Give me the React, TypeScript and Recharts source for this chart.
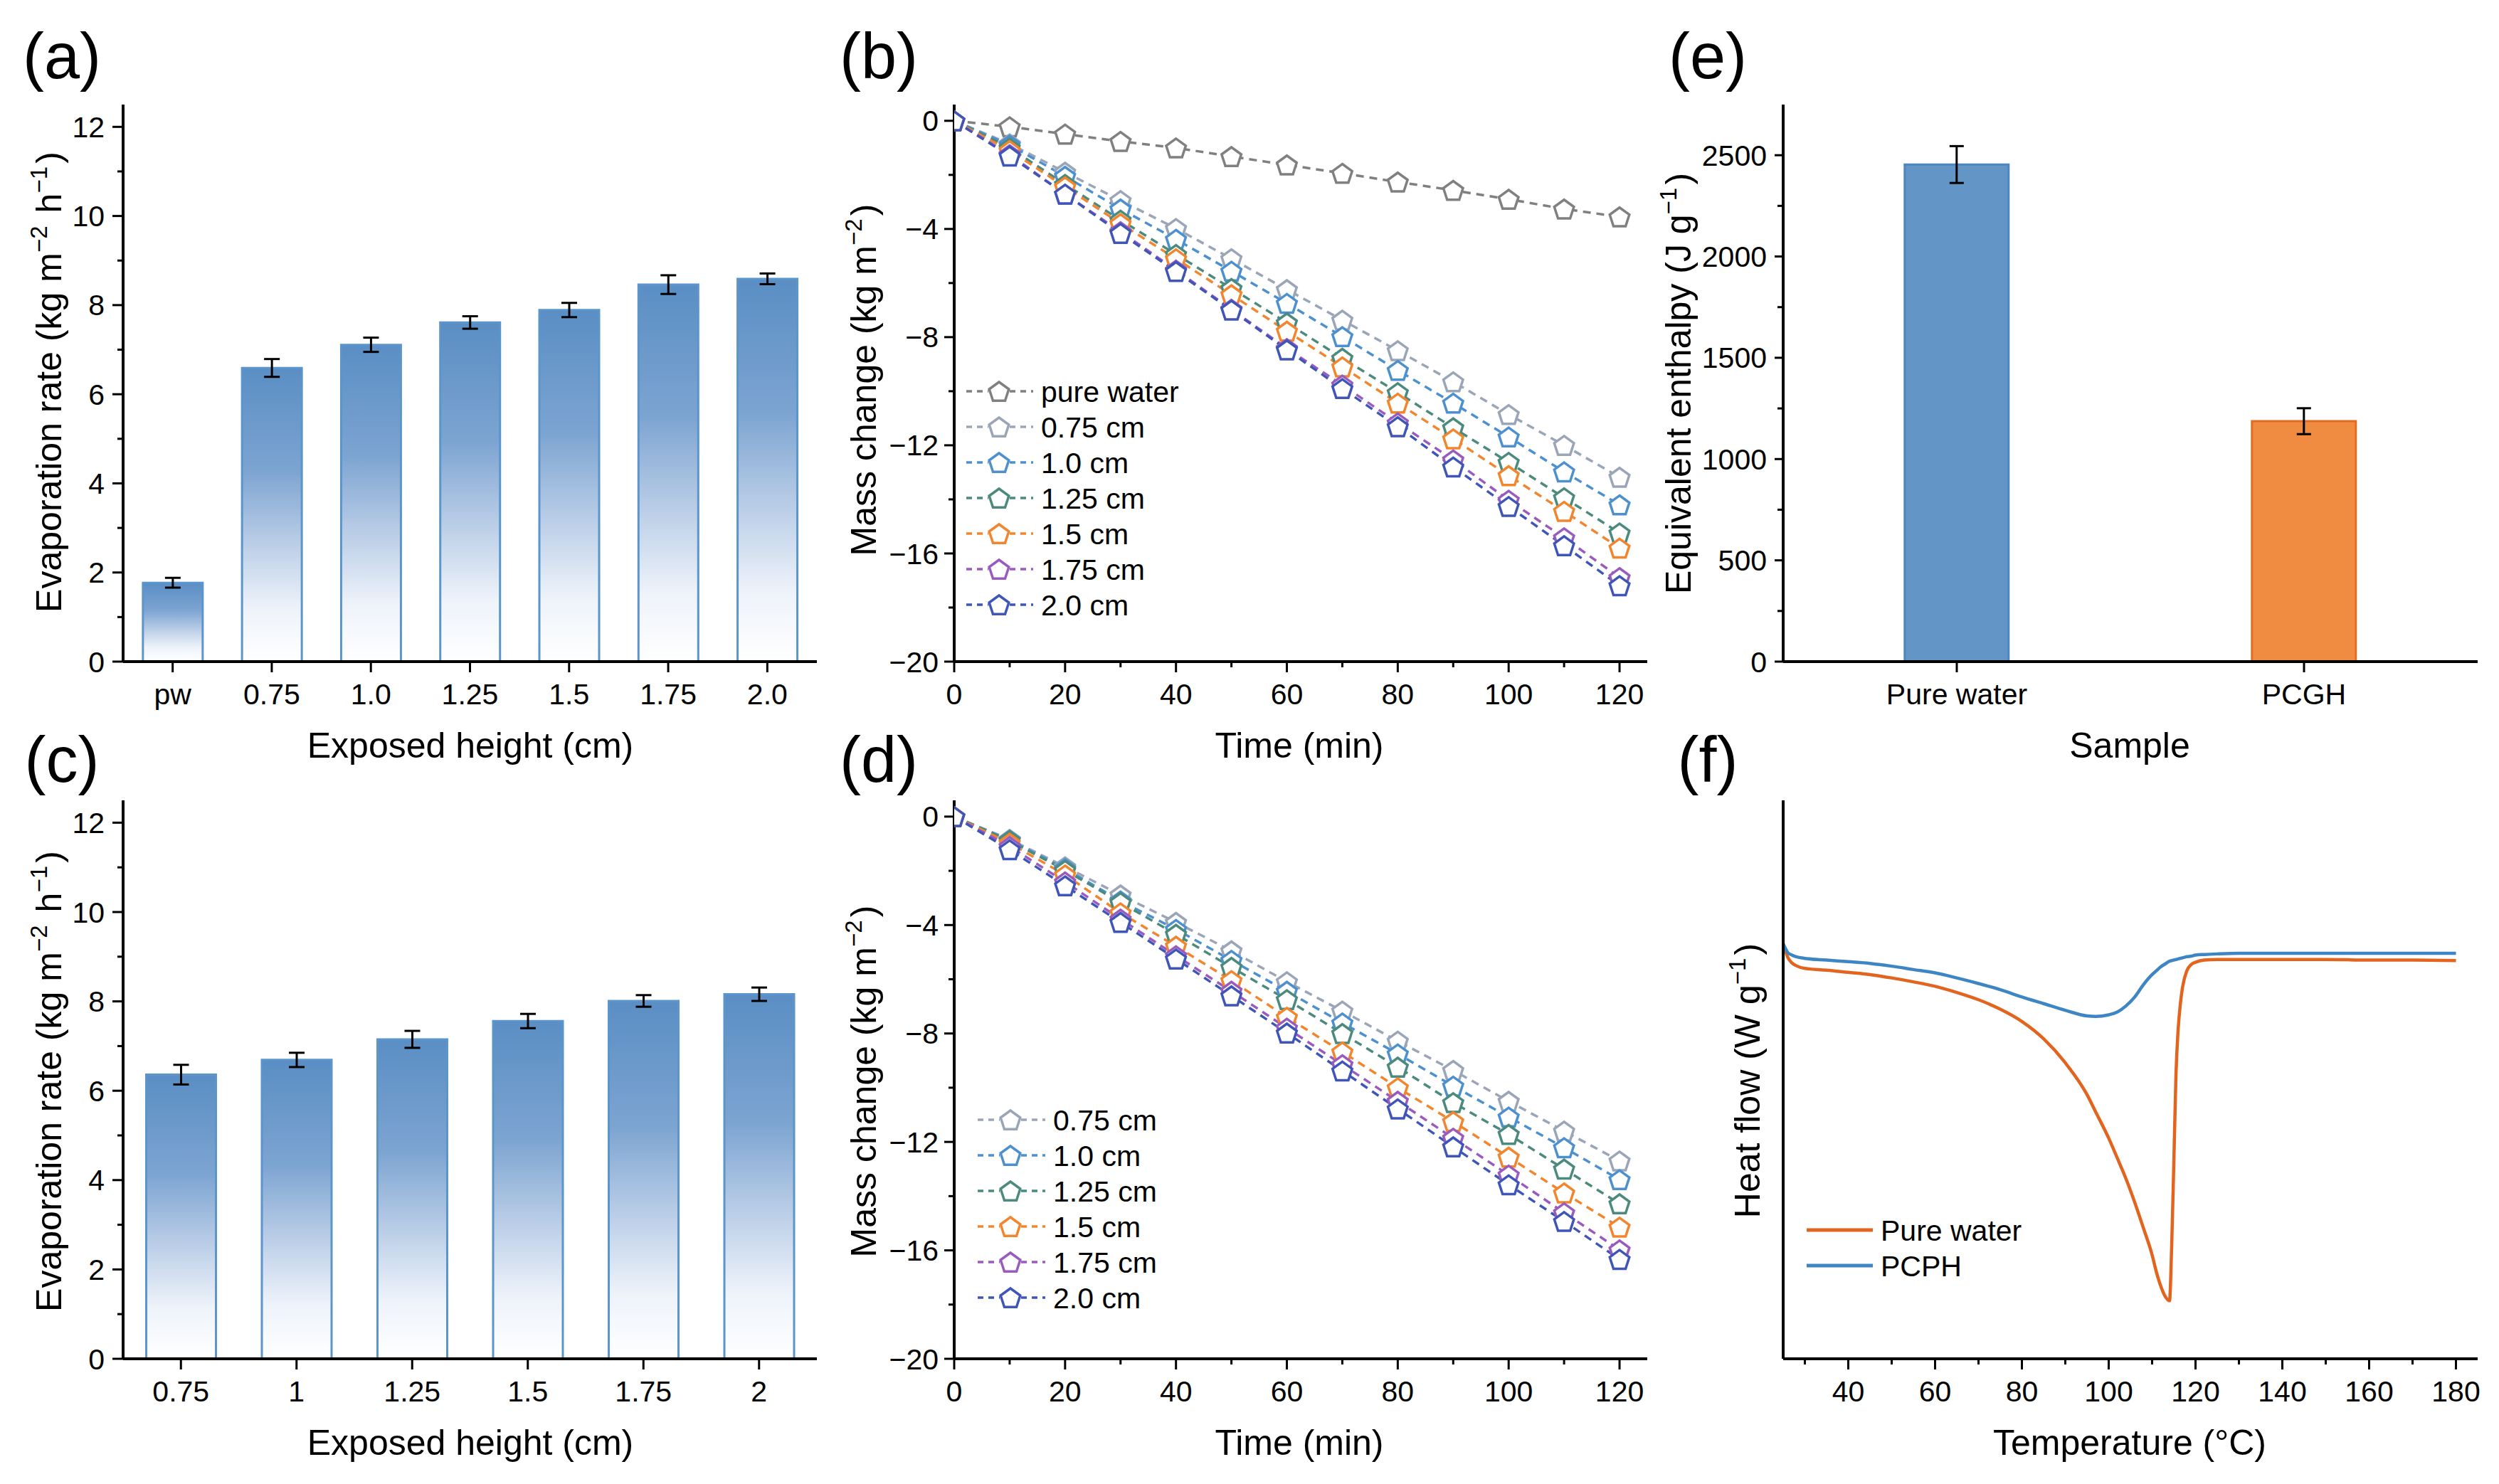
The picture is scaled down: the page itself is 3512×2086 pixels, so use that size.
import React from "react";
import { BarChart, Bar, LineChart, Line, XAxis, YAxis, ErrorBar, Cell } from "recharts";

const FONT = "'Liberation Sans', Arial, Helvetica, sans-serif";
const FRAME = { stroke: "#000", strokeWidth: 4 };

// (a) evaporation rate, pure water + exposed heights
const heightsA = ["pw", "0.75", "1.0", "1.25", "1.5", "1.75", "2.0"];
const rateA = [1.77, 6.59, 7.11, 7.61, 7.89, 8.46, 8.59];
const rateErrA = [0.11, 0.2, 0.16, 0.14, 0.16, 0.21, 0.12];

// (c) evaporation rate, second set
const heightsC = ["0.75", "1", "1.25", "1.5", "1.75", "2"];
const rateC = [6.36, 6.69, 7.15, 7.56, 8.01, 8.16];
const rateErrC = [0.22, 0.16, 0.19, 0.16, 0.13, 0.15];
const rateTicks = [0, 1, 2, 3, 4, 5, 6, 7, 8, 9, 10, 11, 12];

// (b) / (d) mass change vs time
const timeMin = [0, 10, 20, 30, 40, 50, 60, 70, 80, 90, 100, 110, 120];
const timeTicks = [0, 10, 20, 30, 40, 50, 60, 70, 80, 90, 100, 110, 120];
const massTicks = [-20, -18, -16, -14, -12, -10, -8, -6, -4, -2, 0];

const pureWaterB = [0, -0.22, -0.49, -0.76, -1.0, -1.32, -1.63, -1.94, -2.26, -2.57, -2.9, -3.26, -3.55];
const h075B = [0, -0.85, -1.9, -2.95, -3.98, -5.1, -6.24, -7.37, -8.5, -9.65, -10.86, -12.0, -13.18];
const h100B = [0, -0.9, -2.05, -3.26, -4.38, -5.56, -6.75, -7.98, -9.23, -10.44, -11.69, -12.98, -14.2];
const h125B = [0, -1.0, -2.35, -3.67, -4.94, -6.2, -7.47, -8.78, -10.05, -11.35, -12.63, -13.94, -15.24];
const h150B = [0, -1.1, -2.44, -3.8, -5.1, -6.43, -7.78, -9.1, -10.44, -11.76, -13.12, -14.44, -15.8];
const h175B = [0, -1.25, -2.71, -4.1, -5.52, -6.97, -8.42, -9.77, -11.17, -12.54, -14.03, -15.42, -16.89];
const h200B = [0, -1.3, -2.71, -4.16, -5.57, -7.0, -8.47, -9.9, -11.31, -12.8, -14.26, -15.71, -17.19];

const h075D = [0, -0.84, -1.85, -2.89, -3.9, -4.95, -6.09, -7.17, -8.28, -9.36, -10.5, -11.6, -12.7];
const h100D = [0, -0.87, -1.92, -3.11, -4.16, -5.3, -6.44, -7.61, -8.75, -9.94, -11.08, -12.21, -13.39];
const h125D = [0, -0.89, -1.98, -3.17, -4.34, -5.56, -6.75, -8.0, -9.24, -10.55, -11.72, -13.0, -14.28];
const h150D = [0, -0.98, -2.15, -3.55, -4.78, -6.05, -7.4, -8.68, -10.0, -11.25, -12.56, -13.88, -15.14];
const h175D = [0, -1.1, -2.41, -3.78, -5.13, -6.44, -7.8, -9.15, -10.5, -11.86, -13.22, -14.61, -15.98];
const h200D = [0, -1.22, -2.55, -3.9, -5.25, -6.61, -7.98, -9.38, -10.78, -12.18, -13.58, -14.93, -16.33];

const namesB = ["pure water", "0.75 cm", "1.0 cm", "1.25 cm", "1.5 cm", "1.75 cm", "2.0 cm"];
const colorsB = ["#808080", "#9aa6b7", "#4d90cf", "#4b8a7c", "#f2862f", "#9a5bbf", "#3f55b7"];
const valuesB = [pureWaterB, h075B, h100B, h125B, h150B, h175B, h200B];
const namesD = namesB.slice(1);
const colorsD = colorsB.slice(1);
const valuesD = [h075D, h100D, h125D, h150D, h175D, h200D];

// (e) equivalent enthalpy
const samplesE = ["Pure water", "PCGH"];
const enthalpyE = [2454, 1187];
const enthalpyErrE = [91, 64];
const enthalpyFill = ["#6395c7", "#f08b42"];
const enthalpyStroke = ["#4f86c0", "#e26d22"];
const enthalpyTicks = [0, 250, 500, 750, 1000, 1250, 1500, 1750, 2000, 2250, 2500];

// (f) DSC heat flow (a.u.)
const tempC = [25, 25.5, 26, 27, 28, 30, 35, 40, 45, 50, 55, 60, 65, 70, 75, 80, 85, 90, 95, 97, 100, 102, 104, 106, 108, 110, 111, 112, 113, 114, 114.5, 115, 115.5, 116, 116.5, 117, 118, 119, 120, 122, 125, 130, 140, 150, 160, 170, 180];
const flowPureWater = [-2.57, -2.69, -2.8, -2.91, -2.96, -3.01, -3.04, -3.08, -3.12, -3.18, -3.25, -3.33, -3.44, -3.57, -3.74, -3.96, -4.27, -4.7, -5.27, -5.58, -6.05, -6.41, -6.78, -7.2, -7.66, -8.14, -8.45, -8.7, -8.88, -8.96, -8.0, -6.5, -4.9, -4.1, -3.65, -3.35, -3.05, -2.94, -2.9, -2.86, -2.85, -2.85, -2.85, -2.85, -2.86, -2.86, -2.87];
const flowPCPH = [-2.57, -2.65, -2.72, -2.77, -2.8, -2.83, -2.86, -2.89, -2.92, -2.97, -3.03, -3.09, -3.18, -3.28, -3.39, -3.52, -3.64, -3.76, -3.86, -3.87, -3.84, -3.79, -3.68, -3.52, -3.3, -3.12, -3.05, -2.98, -2.93, -2.88, -2.87, -2.86, -2.85, -2.84, -2.83, -2.82, -2.8, -2.79, -2.77, -2.76, -2.75, -2.74, -2.74, -2.74, -2.74, -2.74, -2.74];
const tempTicks = [30, 40, 50, 60, 70, 80, 90, 100, 110, 120, 130, 140, 150, 160, 170, 180];
const namesF = ["Pure water", "PCPH"];
const colorsF = ["#e2641e", "#3d86c3"];

const dataA = heightsA.map((h, i) => ({ h, rate: rateA[i], err: rateErrA[i] }));
const dataC = heightsC.map((h, i) => ({ h, rate: rateC[i], err: rateErrC[i] }));
const dataB = timeMin.map((t, i) => {
  const row: any = { t };
  valuesB.forEach((v, k) => (row["s" + k] = v[i]));
  return row;
});
const dataD = timeMin.map((t, i) => {
  const row: any = { t };
  valuesD.forEach((v, k) => (row["s" + k] = v[i]));
  return row;
});
const dataE = samplesE.map((s, i) => ({ s, val: enthalpyE[i], err: enthalpyErrE[i] }));
const dataF = tempC.map((T, i) => ({ T, pw: flowPureWater[i], pcph: flowPCPH[i] }));

const fmtNum = (v: any) => (typeof v === "number" && v < 0 ? "\u2212" + Math.abs(v) : String(v));

function leftTick(size: number, gap: number, isMajor: (v: any) => boolean) {
  return (props: any) => {
    const { x, y, payload } = props;
    const v = payload.value;
    const major = isMajor(v);
    const ax = x + size + gap;
    return (
      <g>
        <line x1={ax} y1={y} x2={ax - (major ? size : 8)} y2={y} stroke="#000" strokeWidth={3} />
        {major && (
          <text x={x} y={y} dy="0.355em" textAnchor="end" fontSize={41} fontFamily={FONT} fill="#000">
            {fmtNum(v)}
          </text>
        )}
      </g>
    );
  };
}

function bottomTick(size: number, gap: number, isMajor: (v: any) => boolean) {
  return (props: any) => {
    const { x, y, payload } = props;
    const v = payload.value;
    const major = isMajor(v);
    const ay = y - size - gap;
    return (
      <g>
        <line x1={x} y1={ay} x2={x} y2={ay + (major ? size : 8)} stroke="#000" strokeWidth={3} />
        {major && (
          <text x={x} y={y} dy="0.71em" textAnchor="middle" fontSize={41} fontFamily={FONT} fill="#000">
            {fmtNum(v)}
          </text>
        )}
      </g>
    );
  };
}

function pentagonPath(cx: number, cy: number, r: number) {
  let d = "";
  for (let k = 0; k < 5; k++) {
    const a = ((-90 + 72 * k) * Math.PI) / 180;
    d += (k === 0 ? "M" : "L") + (cx + r * Math.cos(a)).toFixed(2) + "," + (cy + r * Math.sin(a)).toFixed(2);
  }
  return d + "Z";
}

const PENT_R = 14.5;

const pentagonDot = (color: string) => (props: any) => {
  const { cx, cy, index } = props;
  if (cx == null || cy == null) return <g key={"d" + index} />;
  return <path key={"d" + index} d={pentagonPath(cx, cy + 1.5, PENT_R)} fill="#fff" stroke={color} strokeWidth={3.5} />;
};

const always = () => true;
const even = (v: number) => v % 2 === 0;

function RateChart({ data, left, top, gid, plotTop, axisH }: any) {
  return (
    <div style={{ position: "absolute", left, top }}>
      <BarChart width={1180} height={1000} data={data} margin={{ top: plotTop, right: 32, bottom: 0, left: 0 }} barCategoryGap="20%">
        <defs>
          <linearGradient id={gid} x1="0" y1="0" x2="0" y2="1">
            <stop offset="0%" stopColor="#5a8ec4" />
            <stop offset="35%" stopColor="#7ca4d1" />
            <stop offset="60%" stopColor="#bbcee7" />
            <stop offset="82%" stopColor="#eef3fa" />
            <stop offset="100%" stopColor="#ffffff" />
          </linearGradient>
        </defs>
        <XAxis dataKey="h" height={axisH} interval={0} tickSize={15} tickMargin={16} tickLine={false} tick={bottomTick(15, 16, always)} axisLine={FRAME} />
        <XAxis xAxisId="top" orientation="top" dataKey="h" height={0} tick={false} tickLine={false} axisLine={FRAME} />
        <YAxis type="number" domain={[0, 12.5]} allowDataOverflow ticks={rateTicks} interval={0} width={173} tickSize={15} tickMargin={11} tickLine={false} tick={leftTick(15, 11, even)} axisLine={FRAME} />
        <YAxis yAxisId="right" orientation="right" type="number" domain={[0, 1]} width={0} tick={false} tickLine={false} axisLine={FRAME} />
        <Bar dataKey="rate" fill={`url(#${gid})`} stroke="#5c95ca" strokeWidth={3} isAnimationActive={false}>
          <ErrorBar dataKey="err" direction="y" width={11} stroke="#000" strokeWidth={3} />
        </Bar>
      </BarChart>
    </div>
  );
}

function MassChart({ data, left, top, plotTop, axisH, colors }: any) {
  return (
    <div style={{ position: "absolute", left, top }}>
      <LineChart width={1150} height={1000} data={data} margin={{ top: plotTop, right: 35, bottom: 0, left: 0 }}>
        <XAxis dataKey="t" type="number" domain={[0, 125]} allowDataOverflow ticks={timeTicks} interval={0} height={axisH} tickSize={15} tickMargin={16} tickLine={false} tick={bottomTick(15, 16, (v) => v % 20 === 0)} axisLine={FRAME} />
        <XAxis xAxisId="top" orientation="top" dataKey="t" type="number" domain={[0, 125]} height={0} tick={false} tickLine={false} axisLine={FRAME} />
        <YAxis type="number" domain={[-20, 0.6]} allowDataOverflow ticks={massTicks} interval={0} width={141} tickSize={14} tickMargin={8} tickLine={false} tick={leftTick(14, 8, (v) => v % 4 === 0)} axisLine={FRAME} />
        <YAxis yAxisId="right" orientation="right" type="number" domain={[0, 1]} width={0} tick={false} tickLine={false} axisLine={FRAME} />
        {colors.map((c: string, k: number) => (
          <Line key={k} type="linear" dataKey={"s" + k} stroke={c} strokeWidth={3.5} strokeDasharray="11 8" dot={pentagonDot(c)} activeDot={false} isAnimationActive={false} />
        ))}
      </LineChart>
    </div>
  );
}

function Sup({ children }: any) {
  return (
    <>
      <tspan dy={-20} fontSize={33}>{children}</tspan>
      <tspan dy={20}>{"\u200a"}</tspan>
    </>
  );
}

function YTitle({ x, y, children }: any) {
  return (
    <text transform={`translate(${x},${y}) rotate(-90)`} y={18} textAnchor="middle" fontSize={50} fontFamily={FONT} fill="#000">
      {children}
    </text>
  );
}

function XTitle({ x, y, children }: any) {
  return (
    <text x={x} y={y + 18} textAnchor="middle" fontSize={50} fontFamily={FONT} fill="#000">
      {children}
    </text>
  );
}

function PanelTag({ x, y, children }: any) {
  return (
    <text x={x} y={y + 32} textAnchor="middle" fontSize={90} fontFamily={FONT} fill="#000">
      {children}
    </text>
  );
}

function MarkerLegend({ names, colors, x0, xm, x1, xt, y0 }: any) {
  return (
    <g>
      {names.map((n: string, i: number) => {
        const y = y0 + i * 50;
        const c = colors[i];
        return (
          <g key={n}>
            <line x1={x0} y1={y} x2={xm - 15} y2={y} stroke={c} strokeWidth={3.5} strokeDasharray="8 7" />
            <line x1={xm + 15} y1={y} x2={x1} y2={y} stroke={c} strokeWidth={3.5} strokeDasharray="8 7" />
            <path d={pentagonPath(xm, y + 1.5, PENT_R)} fill="#fff" stroke={c} strokeWidth={3.5} />
            <text x={xt} y={y} dy="0.36em" fontSize={41} fontFamily={FONT} fill="#000">
              {n}
            </text>
          </g>
        );
      })}
    </g>
  );
}

export default function App() {
  return (
    <div style={{ position: "absolute", left: 0, top: 0, width: 3512, height: 2086, background: "#fff", overflow: "hidden" }}>
      <RateChart data={dataA} left={0} top={0} gid="fadeA" plotTop={147} axisH={70} />
      <RateChart data={dataC} left={0} top={1000} gid="fadeC" plotTop={125} axisH={90} />
      <MassChart data={dataB} left={1200} top={0} plotTop={147} axisH={70} colors={colorsB} />
      <MassChart data={dataD} left={1200} top={1000} plotTop={125} axisH={90} colors={colorsD} />

      <div style={{ position: "absolute", left: 2370, top: 0 }}>
        <BarChart width={1142} height={1000} data={dataE} margin={{ top: 147, right: 30, bottom: 0, left: 0 }} barCategoryGap="35%">
          <XAxis dataKey="s" height={70} interval={0} tickSize={15} tickMargin={16} tickLine={false} tick={bottomTick(15, 16, always)} axisLine={FRAME} />
          <XAxis xAxisId="top" orientation="top" dataKey="s" height={0} tick={false} tickLine={false} axisLine={FRAME} />
          <YAxis type="number" domain={[0, 2750]} allowDataOverflow ticks={enthalpyTicks} interval={0} width={136} tickSize={12} tickMargin={11} tickLine={false} tick={leftTick(12, 11, (v) => v % 500 === 0)} axisLine={FRAME} />
          <YAxis yAxisId="right" orientation="right" type="number" domain={[0, 1]} width={0} tick={false} tickLine={false} axisLine={FRAME} />
          <Bar dataKey="val" strokeWidth={3} isAnimationActive={false}>
            {dataE.map((d, i) => (
              <Cell key={d.s} fill={enthalpyFill[i]} stroke={enthalpyStroke[i]} />
            ))}
            <ErrorBar dataKey="err" direction="y" width={10} stroke="#000" strokeWidth={3} />
          </Bar>
        </BarChart>
      </div>

      <div style={{ position: "absolute", left: 2370, top: 1000 }}>
        <LineChart width={1142} height={1000} data={dataF} margin={{ top: 125, right: 30, bottom: 0, left: 0 }}>
          <XAxis dataKey="T" type="number" domain={[25, 185]} allowDataOverflow ticks={tempTicks} interval={0} height={90} tickSize={15} tickMargin={16} tickLine={false} tick={bottomTick(15, 16, (v) => v % 20 === 0)} axisLine={FRAME} />
          <XAxis xAxisId="top" orientation="top" dataKey="T" type="number" domain={[25, 185]} height={0} tick={false} tickLine={false} axisLine={FRAME} />
          <YAxis type="number" domain={[-10, 0]} allowDataOverflow width={136} tick={false} tickLine={false} axisLine={FRAME} />
          <YAxis yAxisId="right" orientation="right" type="number" domain={[0, 1]} width={0} tick={false} tickLine={false} axisLine={FRAME} />
          <Line type="monotone" dataKey="pw" stroke={colorsF[0]} strokeWidth={4.5} dot={false} activeDot={false} isAnimationActive={false} />
          <Line type="monotone" dataKey="pcph" stroke={colorsF[1]} strokeWidth={4.5} dot={false} activeDot={false} isAnimationActive={false} />
        </LineChart>
      </div>

      <svg width={3512} height={2086} style={{ position: "absolute", left: 0, top: 0, pointerEvents: "none" }}>
        <PanelTag x={87} y={78}>(a)</PanelTag>
        <PanelTag x={1235} y={78}>(b)</PanelTag>
        <PanelTag x={2400} y={78}>(e)</PanelTag>
        <PanelTag x={87} y={1067}>(c)</PanelTag>
        <PanelTag x={1235} y={1067}>(d)</PanelTag>
        <PanelTag x={2400} y={1067}>(f)</PanelTag>

        <YTitle x={68} y={537}>
          Evaporation rate (kg m<Sup>{"\u22122"}</Sup> h<Sup>{"\u22121"}</Sup>)
        </YTitle>
        <YTitle x={68} y={1520}>
          Evaporation rate (kg m<Sup>{"\u22122"}</Sup> h<Sup>{"\u22121"}</Sup>)
        </YTitle>
        <YTitle x={1213} y={534}>
          Mass change (kg m<Sup>{"\u22122"}</Sup>)
        </YTitle>
        <YTitle x={1213} y={1520}>
          Mass change (kg m<Sup>{"\u22122"}</Sup>)
        </YTitle>
        <YTitle x={2358} y={539}>
          Equivalent enthalpy (J g<Sup>{"\u22121"}</Sup>)
        </YTitle>
        <YTitle x={2455} y={1519}>
          Heat flow (W g<Sup>{"\u22121"}</Sup>)
        </YTitle>

        <XTitle x={661} y={1047}>Exposed height (cm)</XTitle>
        <XTitle x={661} y={2027}>Exposed height (cm)</XTitle>
        <XTitle x={1826} y={1047}>Time (min)</XTitle>
        <XTitle x={1826} y={2027}>Time (min)</XTitle>
        <XTitle x={2993} y={1047}>Sample</XTitle>
        <XTitle x={2993} y={2027}>Temperature (°C)</XTitle>

        <MarkerLegend names={namesB} colors={colorsB} x0={1358} xm={1404} x1={1452} xt={1463} y0={550} />
        <MarkerLegend names={namesD} colors={colorsD} x0={1374} xm={1420} x1={1469} xt={1480} y0={1574} />

        {namesF.map((n, i) => (
          <g key={n}>
            <line x1={2539} y1={1729 + i * 50} x2={2632} y2={1729 + i * 50} stroke={colorsF[i]} strokeWidth={5} />
            <text x={2643} y={1729 + i * 50} dy="0.36em" fontSize={41} fontFamily={FONT} fill="#000">
              {n}
            </text>
          </g>
        ))}
      </svg>
    </div>
  );
}
